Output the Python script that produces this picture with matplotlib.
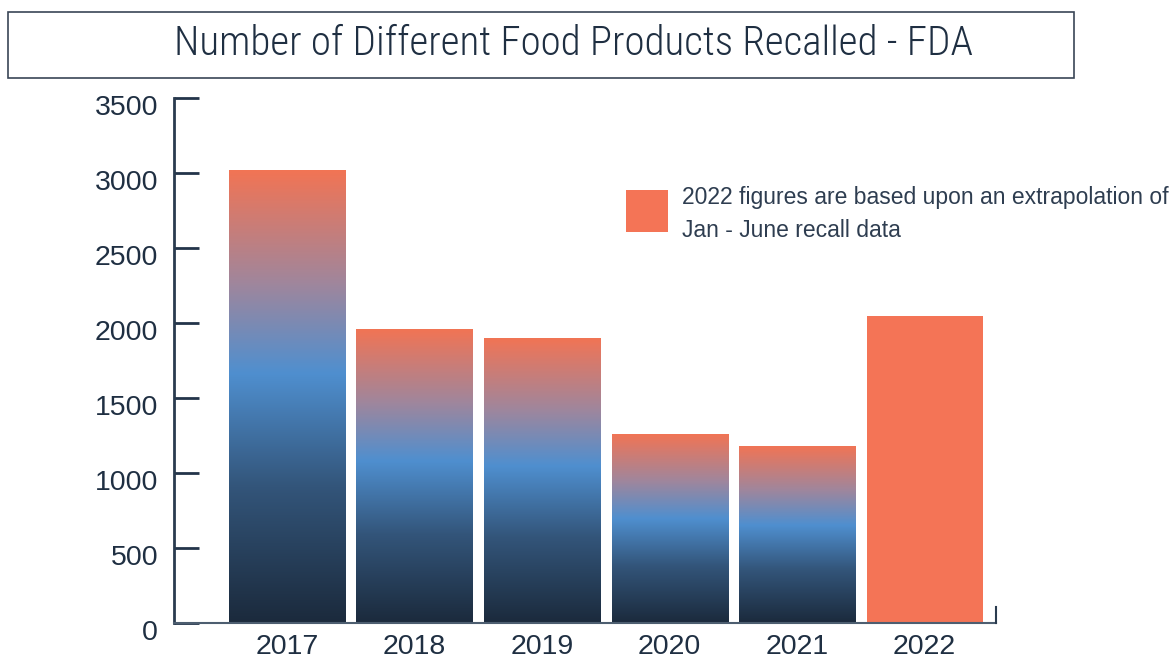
import numpy as np
import matplotlib
matplotlib.use("Agg")
import matplotlib.pyplot as plt
from matplotlib import font_manager
from matplotlib.colors import LinearSegmentedColormap
from matplotlib.patches import Rectangle
from matplotlib.transforms import ScaledTranslation

years = ["2017", "2018", "2019", "2020", "2021", "2022"]
recalls = [3020, 1960, 1900, 1260, 1180, 2047]
y_ticks = [0, 500, 1000, 1500, 2000, 2500, 3000, 3500]
title = "Number of Different Food Products Recalled - FDA"
note = "2022 figures are based upon an extrapolation of\nJan - June recall data"

TEXT = "#1f2f42"
CORAL = "#f47456"
grad = LinearSegmentedColormap.from_list(
    "g", [(0.0, "#1b2a3c"), (0.30, "#33557a"), (0.55, "#4f8fcf"),
          (0.75, "#a0869c"), (1.0, "#f27454")])

plt.rcParams["font.family"] = ["Liberation Sans", "DejaVu Sans"]

available = {f.name for f in font_manager.fontManager.ttflist}
title_family = "Liberation Sans"
title_size = 24
for cand, size in [("Liberation Sans Narrow", 29), ("Roboto Condensed", 29.5),
                   ("Open Sans Condensed", 28)]:
    if cand in available:
        title_family, title_size = cand, size
        break

fig = plt.figure(figsize=(11.76, 6.59), dpi=100)
ax = fig.add_axes([174/1176, 1-623/659, (996-174)/1176, (623-98)/659])

x = np.arange(len(years))
width = 0.91
bars = ax.bar(x, recalls, width=width, color="none", edgecolor="none", zorder=2)
g = np.linspace(0, 1, 256).reshape(-1, 1)
for i, b in enumerate(bars):
    x0, w, h = b.get_x(), b.get_width(), b.get_height()
    if years[i] == "2022":
        b.set_facecolor(CORAL)
        continue
    im = ax.imshow(g, cmap=grad, origin="lower", aspect="auto",
                   extent=[x0, x0 + w, 0, h], zorder=2, interpolation="bilinear")
    im.set_clip_path(b)

ax.set_xlim(-0.886, 5.56)
ax.set_ylim(0, 3500)
ax.set_xticks(x)
ax.set_xticklabels(years)
ax.set_yticks(y_ticks)
ax.tick_params(axis="y", direction="in", length=18, width=2, color="#23344a",
               labelsize=20.5, labelcolor=TEXT, pad=11.5)
ax.tick_params(axis="x", length=0, labelsize=20.5, labelcolor=TEXT, pad=8)
off = ScaledTranslation(0, -7/100, fig.dpi_scale_trans)
for lab in ax.get_yticklabels():
    lab.set_transform(lab.get_transform() + off)
for s in ["top", "right"]:
    ax.spines[s].set_visible(False)
ax.spines["left"].set_color("#2a3b4f")
ax.spines["left"].set_linewidth(2)
ax.spines["bottom"].set_color("#4d5e70")
ax.spines["bottom"].set_linewidth(1.5)
ax.plot([1, 1], [0, 0.03], transform=ax.transAxes, color="#2a3b4f",
        lw=1.5, clip_on=False, zorder=3)

# title box
fig.patches.append(Rectangle((8/1176, 1-78/659), (1074-8)/1176, 66/659,
                             transform=fig.transFigure, fill=False,
                             edgecolor="#3a4656", lw=1.2))
fig.text(573/1176, 1-44/659, title, ha="center", va="center",
         fontsize=title_size, color=TEXT, family=[title_family, "DejaVu Sans"],
         fontweight="light")

# note (legend-like)
fig.patches.append(Rectangle((626/1176, 1-232/659), 42/1176, 42/659,
                             transform=fig.transFigure, facecolor=CORAL,
                             edgecolor="none"))
fig.text(682/1176, 1-186/659, note, ha="left", va="top", fontsize=16.5,
         color="#2e3d50", linespacing=1.55)

fig.savefig("out.png", dpi=100)
